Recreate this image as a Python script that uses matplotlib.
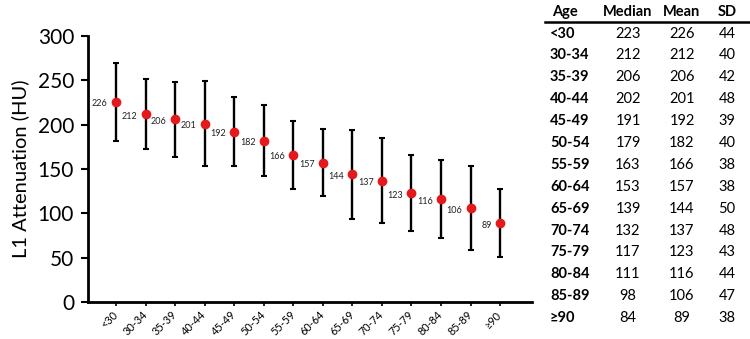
import matplotlib
matplotlib.use("Agg")
import matplotlib.pyplot as plt

plt.rcParams['font.family'] = ['Lato', 'DejaVu Sans']

ages = ["<30", "30-34", "35-39", "40-44", "45-49", "50-54", "55-59", "60-64",
        "65-69", "70-74", "75-79", "80-84", "85-89", "≥90"]
medians = [223, 212, 206, 202, 191, 179, 163, 153, 139, 132, 117, 111, 98, 84]
means = [226, 212, 206, 201, 192, 182, 166, 157, 144, 137, 123, 116, 106, 89]
sds = [44, 40, 42, 48, 39, 40, 38, 38, 50, 48, 43, 44, 47, 38]
yticks = [0, 50, 100, 150, 200, 250, 300]

fig = plt.figure(figsize=(7.5, 3.39), dpi=100)
ax = fig.add_axes([88/750, 1-302/339, (532-88)/750, (302-36)/339])

x = list(range(len(ages)))
ax.errorbar(x, means, yerr=sds, fmt='none', ecolor='black', elinewidth=1.7,
            capsize=2, capthick=1.5, zorder=2)
ax.plot(x, means, 'o', color='#e3191c', markersize=6, zorder=3)
for xi, m in zip(x, means):
    ax.annotate(str(m), (xi, m), xytext=(-6, -1.5), textcoords='offset points',
                ha='right', va='center', fontsize=6.5, color='#222222')

ax.set_xlim(-0.95, 14.08)
ax.set_ylim(0, 300)
ax.set_yticks(yticks)
ax.set_yticklabels([str(v) for v in yticks], fontsize=15)
ax.set_xticks(x)
ax.set_xticklabels(ages, rotation=45, ha='right', va='center', rotation_mode='anchor', fontsize=7.8)
ax.tick_params(axis='x', length=3, width=1.2, pad=5)
ax.tick_params(axis='y', length=5, width=1.5, pad=5)
for s in ['top', 'right']:
    ax.spines[s].set_visible(False)
for s in ['left', 'bottom']:
    ax.spines[s].set_linewidth(2)
ax.set_ylabel("L1 Attenuation (HU)", fontsize=14.5, labelpad=6)

# table
W, H = 750, 339
def fx(px): return px / W
def fy(py): return 1 - py / H

fs = 10.5
hy = 12
fig.text(fx(552), fy(hy), "Age", fontsize=fs, fontweight='bold', ha='left', va='center')
fig.text(fx(628), fy(hy), "Median", fontsize=fs, fontweight='bold', ha='center', va='center')
fig.text(fx(682), fy(hy), "Mean", fontsize=fs, fontweight='bold', ha='center', va='center')
fig.text(fx(727), fy(hy), "SD", fontsize=fs, fontweight='bold', ha='center', va='center')
fig.add_artist(plt.Line2D([fx(545), fx(749)], [fy(22), fy(22)], color='black', lw=1.8))

y0, dy = 33.5, 21.9
for i, (a, md, mn, sd) in enumerate(zip(ages, medians, means, sds)):
    yy = y0 + i * dy
    fig.text(fx(550), fy(yy), a, fontsize=fs, fontweight='bold', ha='left', va='center')
    fig.text(fx(628), fy(yy), str(md), fontsize=fs, ha='center', va='center')
    fig.text(fx(682), fy(yy), str(mn), fontsize=fs, ha='center', va='center')
    fig.text(fx(727), fy(yy), str(sd), fontsize=fs, ha='center', va='center')

fig.savefig("out.png", dpi=100)
